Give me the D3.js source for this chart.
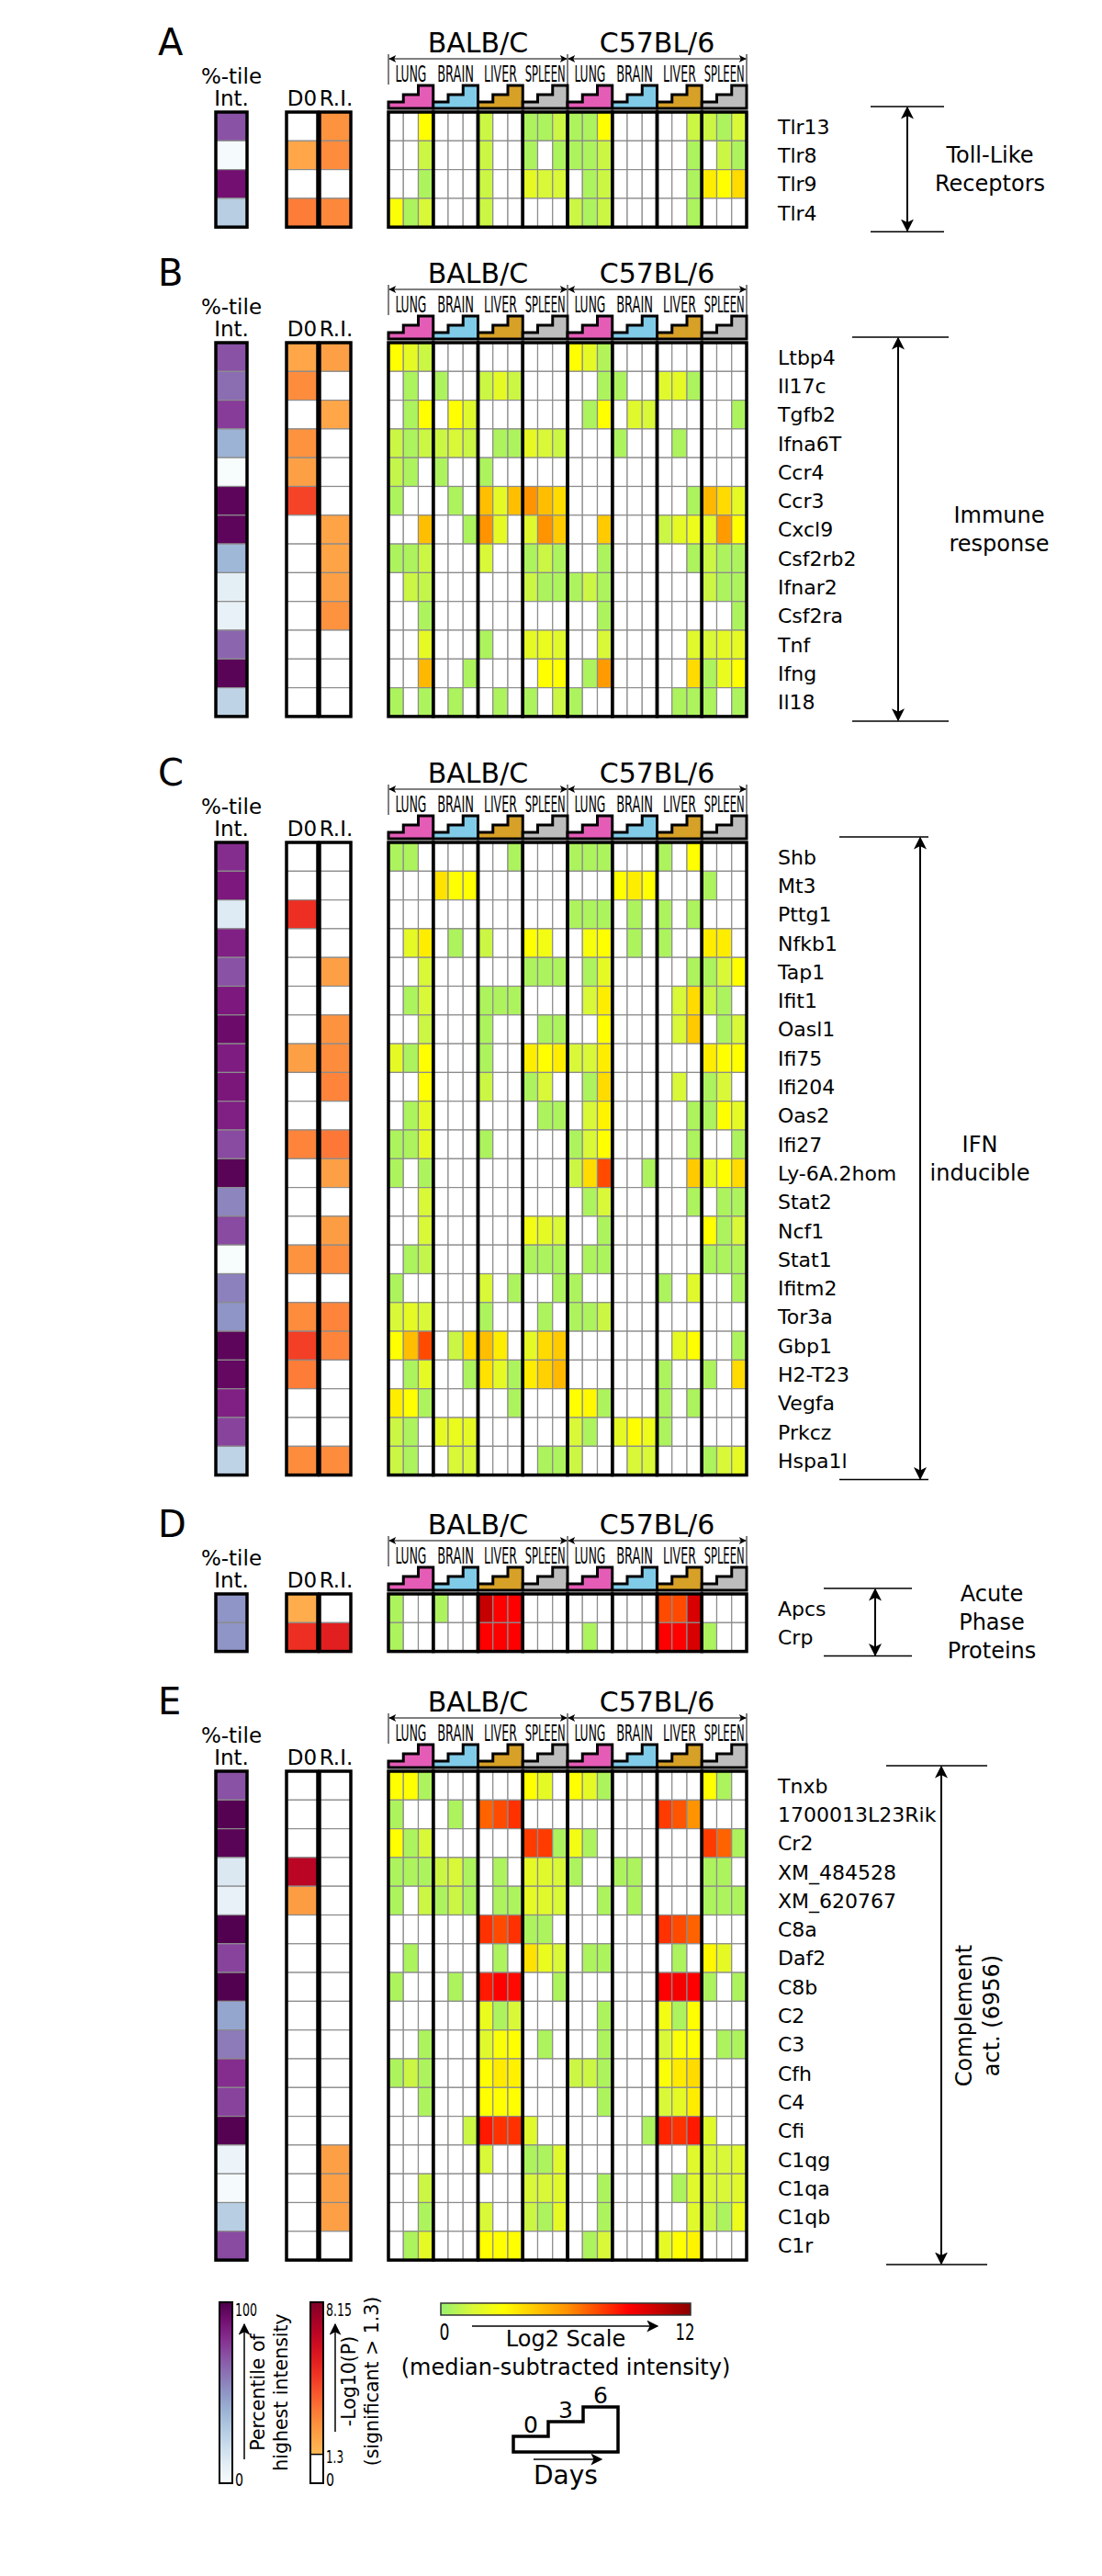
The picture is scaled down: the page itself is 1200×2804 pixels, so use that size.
<!DOCTYPE html>
<html>
<head>
<meta charset="utf-8">
<script src="https://cdn.jsdelivr.net/npm/d3@7"></script>
<style>
  body { margin: 0; background: #fff; }
  svg { display: block; font-family: "DejaVu Sans", sans-serif; }
</style>
</head>
<body>
<div class="fig"></div>
<script>
// ---------- data ----------
var strains = ["BALB/C", "C57BL/6"];
var tissues = ["LUNG", "BRAIN", "LIVER", "SPLEEN"];
var days = ["0", "3", "6"];
var tissueColors = ["#e55cb7", "#80cbe8", "#d7a027", "#bdbdbd"];
var tissueTextW = [34, 40, 36, 44];

// each row: BALB/C lung d0,d3,d6 | brain | liver | spleen | C57BL/6 lung | brain | liver | spleen
// 0 = blank (not significant), otherwise log2 median-subtracted intensity
var genesA = ["Tlr13", "Tlr8", "Tlr9", "Tlr4"];
var valsA = [
  [0,0,3, 0,0,0, 1.2,0,0, 0.5,0.5,1.2, 0.5,0.5,3, 0,0,0, 0,0,1.2, 1.2,0.5,1.5],
  [0,0,1.2, 0,0,0, 1.2,0,0, 0.5,0,0.5, 0.5,0.5,1.2, 0,0,0, 0,0,0.5, 0,1.2,0.5],
  [0,0,0.5, 0,0,0, 1.2,0,0, 2,1.5,1.5, 0,0.5,1.2, 0,0,0, 0,0,0.5, 3.5,3,4],
  [2.8,0.5,1.5, 0,0,0, 1.2,0,0, 0,0,0, 1.2,0.5,1.2, 0,0,0, 0,0,0.5, 0,0,0]
];
var pctA = [70, 1, 90, 28];
var d0A = [0, 2, 0, 3.2];
var riA = [2.6, 2.8, 0, 2.9];

var genesB = ["Ltbp4", "Il17c", "Tgfb2", "Ifna6T", "Ccr4", "Ccr3", "Cxcl9", "Csf2rb2", "Ifnar2", "Csf2ra", "Tnf", "Ifng", "Il18"];
var valsB = [
  [3,2,1.2, 0,0,0, 0,0,0, 0,0,0, 3,2,0.6, 0,0,0, 0,0,0, 0,0,0],
  [0,0.5,0, 0.5,0,0, 1.2,2,1.2, 0,0,0, 0,0,0.5, 0.5,0,0, 1.8,2,0.5, 0,0,0],
  [0,0.5,3, 0,3,1.8, 0,0,0, 0,0,0, 0,0.5,3, 0,1.8,1.5, 0,0,0, 0,0,0.5],
  [1.2,0.5,1.2, 1.2,1.5,1.2, 0,0.5,0.5, 2,1.5,1.2, 0,0,0, 0.5,0,0, 0,0.5,0, 0,0,0],
  [1,0.5,0, 0.5,0,0, 0.5,0,0, 0,0,0, 0,0,0, 0,0,0, 0,0,0, 0,0,0],
  [0.5,0,0, 0,0.5,0, 4.8,2,4.8, 6,4.8,4, 0,0,0, 0,0,0, 0,0,0.5, 5,4,2],
  [0,0,4.8, 0,0,0.5, 6,2,0, 1.8,6,4.5, 0,0,4.5, 0,0,0, 1.2,2,2.3, 2,5.8,3],
  [0.5,0.5,1.2, 0,0,0, 1.5,0,0, 0.5,1.2,0.5, 0,0,0.5, 0,0,0, 0,0,0.5, 1.2,0.5,0.5],
  [0,1.2,1, 0,0,0, 0,0,0, 1.2,0.5,0.5, 0.5,1.2,0.5, 0,0,0, 0,0,0, 1.2,0.5,0.5],
  [0,0,0.5, 0,0,0, 0,0,0, 0,0,0, 0,0,0.5, 0,0,0, 0,0,0, 0,0,0.5],
  [0,0,2, 0,0,0, 0.5,0,0, 2,2.2,1.8, 0,0,1.5, 0,0,0, 0,0,1.8, 1.5,2,2],
  [0,0,5, 0,0,0.5, 0,0,0, 0,3,3, 0,0.5,5.8, 0,0,0, 0,0,4, 0.5,2.2,3],
  [0.5,0,0.5, 0,0.5,0, 0,0.5,0, 0.5,0,1.2, 0.5,0,0, 0,0,0, 0,0.5,0.5, 0.5,0,0.5]
];
var pctB = [70, 62, 76, 40, 0, 96, 96, 38, 10, 8, 64, 97, 25];
var d0B = [2, 2.8, 0, 2.6, 2.2, 4.5, 0, 0, 0, 0, 0, 0, 0];
var riB = [2.2, 0, 2, 0, 0, 0, 2.1, 2.1, 2.2, 2.6, 0, 0, 0];

var genesC = ["Shb", "Mt3", "Pttg1", "Nfkb1", "Tap1", "Ifit1", "Oasl1", "Ifi75", "Ifi204", "Oas2", "Ifi27", "Ly-6A.2hom",
  "Stat2", "Ncf1", "Stat1", "Ifitm2", "Tor3a", "Gbp1", "H2-T23", "Vegfa", "Prkcz", "Hspa1l"];
var valsC = [
  [0.5,0.5,0, 0,0,0, 0,0,0.5, 0,0,0, 0.5,0.5,0.5, 0,0,0, 0.5,0,3, 0,0,0],
  [0,0,0, 3.8,3,3, 0,0,0, 0,0,0, 0,0,0, 3,3.5,3, 0,0,0, 0.5,0,0],
  [0,0,0, 0,0,0, 0,0,0, 0,0,0, 0.5,0.5,0.5, 0,0.5,0, 0.5,0,0.5, 0,0,0],
  [0,2,3.5, 0,0.5,0, 1.2,0,0, 3,2.5,0, 0,2.7,3, 0,0.5,0, 0.5,0,0, 3.5,3.5,0],
  [0,0,1.5, 0,0,0, 0,0,0, 0.5,0.5,0.5, 0,0.5,2, 0,0,0, 0,0,0.5, 0.5,1.5,3],
  [0,0.5,1.5, 0,0,0, 0.5,0.5,0.5, 0,0,0, 0,1.5,3.5, 0,0,0, 0,1.5,4, 1.2,0.5,0],
  [0,0,1.2, 0,0,0, 0.5,0,0, 0,0.5,0.5, 0,0,3, 0,0,0, 0,1.5,4.5, 0,0.5,1.5],
  [2,0.5,3, 0,0,0, 0.5,0,0, 3.5,3,3.5, 1.5,1.5,3.5, 0,0,0, 0,0,0, 3.5,3,3],
  [0,0,3, 0,0,0, 1.2,0,0, 0.5,1.5,0, 0,0.5,4, 0,0,0, 0,1.5,0, 0.5,1.5,0],
  [0,0.5,2, 0,0,0, 0,0,0, 0,0.5,0.5, 0,1.5,3.3, 0,0,0, 0,0,0.5, 0.5,3,2],
  [0.5,0.5,2, 0,0,0, 0.5,0,0, 0,0,0, 0.5,1.5,3, 0,0,0, 0,0,0.5, 0,0,0.5],
  [0.5,0,0.5, 0,0,0, 0,0,0, 0,0,0, 1.2,4,7.5, 0,0,0.5, 0,0,4.5, 2,3,4],
  [0,0,1.5, 0,0,0, 0,0,0, 0,0,0, 0,0.5,1.5, 0,0,0, 0,0,0.5, 0,0.5,0.5],
  [0,0,1.5, 0,0,0, 0,0,0, 2.5,2,1.5, 0,0,0.5, 0,0,0, 0,0,0, 3,0.5,1.5],
  [0,0.5,1, 0,0,0, 0,0,0, 0.5,0.5,0.5, 0,0.5,0.5, 0,0,0, 0,0,0, 0.5,0.5,0.5],
  [0.5,0,0, 0,0,0, 1.5,0,0.5, 0,0,0.5, 0.5,0,0, 0,0,0, 0.5,0,1.8, 0,0,0.5],
  [1.5,2,1.5, 0,0,0, 0.5,0,0, 0,0.5,0, 0.5,0.5,1.2, 0,0,0, 0,0,0, 0,0,0],
  [3,4.8,7.5, 0,1.2,4, 4.8,3.5,0, 2,4,4.5, 0,0,0, 0,0,0, 0,2,3, 0,0,0.5],
  [0,0.5,2, 0,0,0.5, 3.8,2,0.5, 3.5,4.3,5, 0,0,0, 0,0,0, 0.5,0,0, 0.5,0,4],
  [3.5,3,0.5, 0,0,0, 0,0,0.5, 0,0,0, 3,3.2,0.5, 0,0,0, 0.5,0,0.5, 0,0,0],
  [1.2,0.5,0, 2,2.2,2, 0,0,0, 0,0,0, 1.5,0.5,0, 2,3,2.3, 0.5,0,0, 0,0,0],
  [1.2,0.5,0, 0,1.5,1.5, 0,0,0, 0,0.5,0.5, 1.2,0,0, 0,1.5,1.5, 0,0,0, 0.5,1.5,2]
];
var pctC = [80, 86, 12, 84, 70, 86, 92, 85, 87, 84, 72, 97, 55, 72, 0, 56, 50, 96, 94, 84, 74, 25];
var d0C = [0, 0, 5, 0, 0, 0, 0, 2.2, 0, 0, 3, 0, 0, 0, 2.6, 0, 2.8, 4.6, 3.2, 0, 0, 2.8];
var riC = [0, 0, 0, 0, 2.2, 0, 2.6, 2.8, 3, 0, 3.3, 2.2, 0, 2.3, 2.8, 0, 3, 3, 0, 0, 0, 2.8];

var genesD = ["Apcs", "Crp"];
var valsD = [
  [0.5,0,0, 0.5,0,0, 10.5,9,9, 0,0,0, 0,0,0, 0,0,0, 7.5,7.5,10, 0,0,0],
  [0.5,0,0, 0,0,0, 9,9,9, 0,0,0, 0,0.5,0, 0,0,0, 9,9,10, 0.5,0,0]
];
var pctD = [50, 50];
var d0D = [1.8, 5];
var riD = [0, 5.5];

var genesE = ["Tnxb", "1700013L23Rik", "Cr2", "XM_484528", "XM_620767", "C8a", "Daf2", "C8b", "C2", "C3", "Cfh",
  "C4", "Cfi", "C1qg", "C1qa", "C1qb", "C1r"];
var valsE = [
  [3,3,0.5, 0,0,0, 0,0,0, 3,2,0, 3,2,0.5, 0,0,0, 0,0,0, 3,0.5,0],
  [0.5,0,0, 0,0.5,0, 7,7.5,8, 0,0,0, 0,0,0, 0,0,0, 7.8,7.3,6, 0,0,0],
  [3,0.5,1.5, 0,0,0, 0,0,0, 7.8,7.8,0.5, 2.5,0.5,0, 0,0,0, 0,0,0, 7.8,7,0.5],
  [0.5,0.5,0.5, 1.2,1.5,0.5, 0,0.5,0, 2,1.8,1.5, 0.5,0,0, 0.5,0.5,0, 0,0,0, 0.5,0.5,0],
  [0.5,0,1.2, 0.5,1.2,0.5, 0,0.5,0.5, 2,1.8,1.5, 0,0,0.5, 0,0.5,0, 0,0,0, 0.5,0.5,0.5],
  [0,0,0, 0,0,0, 8,7.5,8, 0.5,0.5,0, 0,0,0, 0,0,0, 8,7.5,7, 0,0,0],
  [0,0.5,0, 0,0,0, 0,0.5,0, 3.8,2.2,1.5, 0,0.5,0.5, 0,0,0, 0,0.5,0, 3.2,2,0],
  [0.5,0,0, 0,0.5,0, 8.5,9,8.8, 0,0,0.5, 0,0,0, 0,0,0, 9,9.2,9, 0.5,0,0.5],
  [0,0,0, 0,0,0, 2.2,0.5,1.5, 0,0,0, 0,0,0.5, 0,0,0, 2.5,0.5,3, 0,0,0],
  [0,0,0.5, 0,0,0, 1.8,2.8,3, 0,0.5,0, 0,0,0.5, 0,0,0, 1.5,2.8,3, 0,0.5,0.5],
  [0.5,1.2,0.5, 0,0,0, 3,3.6,3.4, 0,0,0, 1.2,1.2,0.5, 0,0,0, 2.8,3.6,4, 0,0,0],
  [0,0,0.5, 0,0,0, 3,3,3, 0,0,0, 0,0,0.5, 0,0,0, 1.5,2,3.5, 0,0,0],
  [0,0,0, 0,0,1.2, 8.5,8,8, 1.8,0,0, 0,0,0, 0,0,0.5, 8.3,8,8.5, 1.8,0,0],
  [0,0,0, 0,0,0, 1.5,0,0, 0.5,0.5,1.8, 0,0,0, 0,0,0, 0,0,1.8, 1.5,1.5,1.8],
  [0,0,1.2, 0,0,0, 0,0,0, 1.5,1.5,1.8, 0,0,0.5, 0,0,0, 0,0.5,1.8, 1.5,1.5,1.8],
  [0,0,0.5, 0,0,0, 1.5,0,0, 1.2,0.5,2, 0,0,0.5, 0,0,0, 0,0,1.8, 1.2,0.5,2.3],
  [0,0.5,2, 0,0,0, 3,3,3, 0,0,0, 0,0.5,1.5, 0,0,0, 2,3,3.3, 0,0,0]
];
var pctE = [70, 98, 97, 14, 8, 99, 74, 99, 45, 58, 80, 74, 98, 6, 1, 28, 72];
var d0E = [0, 0, 0, 6.8, 2.3, 0, 0, 0, 0, 0, 0, 0, 0, 0, 0, 0, 0];
var riE = [0, 0, 0, 0, 0, 0, 0, 0, 0, 0, 0, 0, 0, 2.2, 2.2, 2.2, 0];

// legend ticks
var pctTicks = [0, 100];
var pTicks = [0, 1.3, 8.15];
var log2Ticks = [0, 12];
var dayTicks = ["0", "3", "6"];

// ---------- scales ----------
var rowH = 31.3;
var colW = 34;

var colIds = [], groupIds = [];
strains.forEach(function(s) {
  tissues.forEach(function(t) {
    groupIds.push(s + "|" + t);
    days.forEach(function(d) { colIds.push(s + "|" + t + "|" + d); });
  });
});
var x = d3.scaleBand().domain(colIds).range([423, 813]);
var xGroup = d3.scaleBand().domain(groupIds).range([423, 813]);
var xStrain = d3.scaleBand().domain(strains).range([423, 813]);

var log2Color = d3.scaleLinear()
  .domain([0, 1.5, 3, 6, 9, 12])
  .range(["#98f070", "#d8f838", "#ffff00", "#ff9400", "#ff0000", "#8b0000"])
  .clamp(true);
var pctColor = d3.scaleSequential(d3.interpolateBuPu).domain([0, 100]);
var pT = d3.scaleLinear().domain([1.3, 8.15]).range([0.35, 1]).clamp(true);
function pColor(v) { return v > 0 ? d3.interpolateYlOrRd(pT(v)) : "#fff"; }
function cellColor(v) { return v > 0 ? log2Color(v) : "#fff"; }

var leftCols = [
  {key: "pct", x: 235, color: function(v) { return pctColor(v); }},
  {key: "d0", x: 312, color: pColor},
  {key: "ri", x: 348, color: pColor}
];

var panels = [
  {letter: "A", top: 122, genes: genesA, vals: valsA, pct: pctA, d0: d0A, ri: riA,
   arrowX: 988, tickL: 40, tickR: 40, labelX: 1078, lines: ["Toll-Like", "Receptors"]},
  {letter: "B", top: 373, genes: genesB, vals: valsB, pct: pctB, d0: d0B, ri: riB,
   arrowX: 978, tickL: 50, tickR: 55, labelX: 1088, lines: ["Immune", "response"]},
  {letter: "C", top: 917, genes: genesC, vals: valsC, pct: pctC, d0: d0C, ri: riC,
   arrowX: 1002, tickL: 88, tickR: 9, labelX: 1067, lines: ["IFN", "inducible"]},
  {letter: "D", top: 1735, genes: genesD, vals: valsD, pct: pctD, d0: d0D, ri: riD,
   arrowX: 953, tickL: 56, tickR: 40, labelX: 1080, lines: ["Acute", "Phase", "Proteins"]},
  {letter: "E", top: 1928, genes: genesE, vals: valsE, pct: pctE, d0: d0E, ri: riE,
   arrowX: 1025, tickL: 60, tickR: 50, labelX: 1050, lines: ["Complement", "act. (6956)"], rotate: true}
];

// ---------- svg ----------
var svg = d3.select(".fig").append("svg")
  .attr("width", 1200)
  .attr("height", 2804);
var defs = svg.append("defs");

function marker(id, w, h) {
  defs.append("marker")
    .attr("id", id)
    .attr("viewBox", "0 0 10 10")
    .attr("refX", 9).attr("refY", 5)
    .attr("markerUnits", "userSpaceOnUse")
    .attr("markerWidth", w).attr("markerHeight", h)
    .attr("orient", "auto-start-reverse")
    .append("path")
    .attr("d", "M0,0 L10,5 L0,10 L2.5,5 z")
    .attr("fill", "#000");
}
marker("ahBig", 14, 14);
marker("ahSmall", 9, 8);
marker("ahLeg", 14, 13);

// squeeze a text horizontally to a given width (condensed look)
function squeeze(sel, cx, cy, w) {
  sel.each(function(d, i) {
    var len = this.getComputedTextLength();
    var tw = typeof w === "function" ? w(d, i) : w;
    var px = typeof cx === "function" ? cx(d, i) : cx;
    var py = typeof cy === "function" ? cy(d, i) : cy;
    d3.select(this).attr("transform", "translate(" + px + "," + py + ") scale(" + (tw / len) + ",1)");
  });
}

function drawPanel(p) {
  var top = p.top, bottom = top + p.genes.length * rowH;
  var y = d3.scaleBand().domain(p.genes).range([top, bottom]);
  var g = svg.append("g").attr("class", "panel-" + p.letter);

  g.append("text").attr("x", 172).attr("y", top - 62)
    .attr("font-size", 40).text(p.letter);

  // left column headers
  g.append("text").attr("x", 252).attr("y", top - 31).attr("text-anchor", "middle")
    .attr("font-size", 23).text("%-tile");
  g.append("text").attr("x", 252).attr("y", top - 7).attr("text-anchor", "middle")
    .attr("font-size", 23).text("Int.");
  g.append("text").attr("x", 329).attr("y", top - 7).attr("text-anchor", "middle")
    .attr("font-size", 23).text("D0");
  g.append("text").attr("x", 366).attr("y", top - 7).attr("text-anchor", "middle")
    .attr("font-size", 23).text("R.I.");

  leftCols.forEach(function(c) {
    var vals = p[c.key];
    g.selectAll(null)
      .data(p.genes)
      .enter().append("rect")
      .attr("x", c.x)
      .attr("y", function(d) { return y(d); })
      .attr("width", colW)
      .attr("height", y.bandwidth())
      .attr("fill", function(d, i) { return c.color(vals[i]); })
      .attr("stroke", "#8c8c8c")
      .attr("stroke-width", 1.2);
    g.append("rect")
      .attr("x", c.x).attr("y", top)
      .attr("width", colW).attr("height", bottom - top)
      .attr("fill", "none").attr("stroke", "#000").attr("stroke-width", 3.5);
  });

  // heatmap cells
  var cells = [];
  p.vals.forEach(function(row, i) {
    row.forEach(function(v, j) { cells.push({gene: p.genes[i], col: colIds[j], v: v}); });
  });
  g.selectAll(null)
    .data(cells)
    .enter().append("rect")
    .attr("x", function(d) { return x(d.col); })
    .attr("y", function(d) { return y(d.gene); })
    .attr("width", x.bandwidth())
    .attr("height", y.bandwidth())
    .attr("fill", function(d) { return cellColor(d.v); })
    .attr("stroke", "#8c8c8c")
    .attr("stroke-width", 1.2);

  // tissue group borders
  g.selectAll(null)
    .data(groupIds)
    .enter().append("rect")
    .attr("x", function(d) { return xGroup(d); })
    .attr("y", top)
    .attr("width", xGroup.bandwidth())
    .attr("height", bottom - top)
    .attr("fill", "none")
    .attr("stroke", "#000")
    .attr("stroke-width", 3.5);

  // stair icons
  var sb = top - 4, bw = x.bandwidth();
  g.selectAll(null)
    .data(groupIds)
    .enter().append("path")
    .attr("d", function(d) {
      var gx = xGroup(d);
      return "M" + gx + "," + sb + "V" + (sb - 7) + "H" + (gx + bw) + "V" + (sb - 15) +
        "H" + (gx + 2 * bw) + "V" + (sb - 25) + "H" + (gx + 3 * bw) + "V" + sb + "Z";
    })
    .attr("fill", function(d, i) { return tissueColors[i % 4]; })
    .attr("stroke", "#000")
    .attr("stroke-width", 3)
    .attr("stroke-linejoin", "miter");

  // tissue names (condensed)
  var tn = g.selectAll(null)
    .data(groupIds)
    .enter().append("text")
    .attr("text-anchor", "middle")
    .attr("font-size", 24)
    .text(function(d) { return d.split("|")[1]; });
  squeeze(tn, function(d) { return xGroup(d) + xGroup.bandwidth() / 2; }, top - 33,
    function(d, i) { return tissueTextW[i % 4]; });

  // strain names + double arrows
  strains.forEach(function(s) {
    var sx = xStrain(s), sw = xStrain.bandwidth();
    g.append("text").attr("x", sx + sw / 2).attr("y", top - 65)
      .attr("text-anchor", "middle").attr("font-size", 30).text(s);
    g.append("line")
      .attr("x1", sx + 1).attr("x2", sx + sw - 1)
      .attr("y1", top - 58).attr("y2", top - 58)
      .attr("stroke", "#000").attr("stroke-width", 1.2)
      .attr("marker-start", "url(#ahSmall)").attr("marker-end", "url(#ahSmall)");
  });
  [423, xStrain("C57BL/6"), 813].forEach(function(vx) {
    g.append("line").attr("x1", vx).attr("x2", vx)
      .attr("y1", top - 63).attr("y2", top - 30)
      .attr("stroke", "#000").attr("stroke-width", 1);
  });

  // gene names
  g.selectAll(null)
    .data(p.genes)
    .enter().append("text")
    .attr("x", 847)
    .attr("y", function(d) { return y(d) + y.bandwidth() / 2 + 8; })
    .attr("font-size", 22)
    .text(function(d) { return d; });

  // bracket
  var t0 = top - 6, t1 = bottom + 5;
  [t0, t1].forEach(function(ty) {
    g.append("line").attr("x1", p.arrowX - p.tickL).attr("x2", p.arrowX + p.tickR)
      .attr("y1", ty).attr("y2", ty).attr("stroke", "#000").attr("stroke-width", 1.5);
  });
  g.append("line").attr("x1", p.arrowX).attr("x2", p.arrowX)
    .attr("y1", t0 + 1).attr("y2", t1 - 1)
    .attr("stroke", "#000").attr("stroke-width", 2)
    .attr("marker-start", "url(#ahBig)").attr("marker-end", "url(#ahBig)");

  // group label
  var mid = (top + bottom) / 2;
  if (p.rotate) {
    var rg = g.append("g").attr("transform", "translate(" + p.labelX + "," + mid + ") rotate(-90)");
    p.lines.forEach(function(l, i) {
      rg.append("text").attr("x", 0).attr("y", 8 + i * 30)
        .attr("text-anchor", "middle").attr("font-size", 24).text(l);
    });
  } else {
    var n = p.lines.length;
    p.lines.forEach(function(l, i) {
      g.append("text").attr("x", p.labelX)
        .attr("y", mid - (n - 1) / 2 * 31 + i * 31 + 8)
        .attr("text-anchor", "middle").attr("font-size", 24).text(l);
    });
  }
}

panels.forEach(drawPanel);

// ---------- legends ----------
var leg = svg.append("g").attr("class", "legend");
var barTop = 2506, barBot = 2703;

// percentile bar
var pctGrad = defs.append("linearGradient").attr("id", "gPct")
  .attr("x1", 0).attr("y1", 1).attr("x2", 0).attr("y2", 0);
d3.range(0, 1.01, 0.1).forEach(function(t) {
  pctGrad.append("stop").attr("offset", t).attr("stop-color", pctColor(t * 100));
});
var yPct = d3.scaleLinear().domain([0, 100]).range([barBot, barTop]);
leg.append("rect").attr("x", 239).attr("y", barTop).attr("width", 14).attr("height", barBot - barTop)
  .attr("fill", "url(#gPct)").attr("stroke", "#000").attr("stroke-width", 2);
var pctLab = leg.selectAll(null).data(pctTicks).enter().append("text")
  .attr("font-size", 20)
  .text(function(d) { return d; });
squeeze(pctLab, 256, function(d) { return yPct(d) + (d === 0 ? 3 : 15); },
  function(d) { return d === 0 ? 9 : 24; });
leg.append("line").attr("x1", 266).attr("x2", 266).attr("y1", 2677).attr("y2", 2530)
  .attr("stroke", "#000").attr("stroke-width", 1.5).attr("marker-end", "url(#ahLeg)");
[["Percentile of", 288], ["highest intensity", 313]].forEach(function(l) {
  leg.append("text").attr("transform", "translate(" + l[1] + ",2604) rotate(-90)")
    .attr("text-anchor", "middle").attr("font-size", 20.5).text(l[0]);
});

// -log10(P) bar
var yP = d3.scaleLinear().domain([0, 8.15]).range([barBot, barTop]);
var pGrad = defs.append("linearGradient").attr("id", "gP")
  .attr("x1", 0).attr("y1", 1).attr("x2", 0).attr("y2", 0);
d3.range(0, 1.01, 0.1).forEach(function(t) {
  pGrad.append("stop").attr("offset", t).attr("stop-color", pColor(1.3 + t * 6.85));
});
leg.append("rect").attr("x", 338).attr("y", barTop).attr("width", 14).attr("height", yP(1.3) - barTop)
  .attr("fill", "url(#gP)");
leg.append("rect").attr("x", 338).attr("y", yP(1.3)).attr("width", 14).attr("height", barBot - yP(1.3))
  .attr("fill", "#fff");
leg.append("line").attr("x1", 338).attr("x2", 352).attr("y1", yP(1.3)).attr("y2", yP(1.3))
  .attr("stroke", "#000").attr("stroke-width", 1.5);
leg.append("rect").attr("x", 338).attr("y", barTop).attr("width", 14).attr("height", barBot - barTop)
  .attr("fill", "none").attr("stroke", "#000").attr("stroke-width", 2);
var pLab = leg.selectAll(null).data(pTicks).enter().append("text")
  .attr("font-size", 20)
  .text(function(d) { return d; });
squeeze(pLab, 355, function(d) { return d === 8.15 ? yP(d) + 15 : yP(d) + (d === 0 ? 3 : 9); },
  function(d) { return d === 0 ? 9 : (d === 8.15 ? 28 : 19); });
leg.append("line").attr("x1", 365).attr("x2", 365).attr("y1", 2647).attr("y2", 2530)
  .attr("stroke", "#000").attr("stroke-width", 1.5).attr("marker-end", "url(#ahLeg)");
[["-Log10(P)", 387], ["(significant > 1.3)", 412]].forEach(function(l) {
  leg.append("text").attr("transform", "translate(" + l[1] + ",2592) rotate(-90)")
    .attr("text-anchor", "middle").attr("font-size", 20.5).text(l[0]);
});

// log2 bar
var xLog = d3.scaleLinear().domain([0, 12]).range([480, 752]);
var lGrad = defs.append("linearGradient").attr("id", "gLog")
  .attr("x1", 0).attr("y1", 0).attr("x2", 1).attr("y2", 0);
d3.range(0, 12.01, 0.5).forEach(function(v) {
  lGrad.append("stop").attr("offset", v / 12).attr("stop-color", log2Color(v));
});
leg.append("rect").attr("x", xLog(0)).attr("y", 2507).attr("width", xLog(12) - xLog(0)).attr("height", 13)
  .attr("fill", "url(#gLog)").attr("stroke", "#333").attr("stroke-width", 1.5);
var logLab = leg.selectAll(null).data(log2Ticks).enter().append("text")
  .attr("text-anchor", "middle")
  .attr("font-size", 24)
  .text(function(d) { return d; });
squeeze(logLab, function(d) { return xLog(d) + (d === 0 ? 4 : -6); }, 2547,
  function(d) { return d === 0 ? 11 : 21; });
leg.append("line").attr("x1", 514).attr("x2", 716).attr("y1", 2532).attr("y2", 2532)
  .attr("stroke", "#000").attr("stroke-width", 1.5).attr("marker-end", "url(#ahLeg)");
leg.append("text").attr("x", 616).attr("y", 2554).attr("text-anchor", "middle")
  .attr("font-size", 24).text("Log2 Scale");
leg.append("text").attr("x", 616).attr("y", 2585).attr("text-anchor", "middle")
  .attr("font-size", 24).text("(median-subtracted intensity)");

// days stairs
var xDay = d3.scaleBand().domain(dayTicks).range([559, 673]);
var stepTop = {"0": 2652, "3": 2636, "6": 2620};
var db = 2669;
var dpath = "M" + xDay("0") + "," + db;
dayTicks.forEach(function(d) {
  dpath += "V" + stepTop[d] + "H" + (xDay(d) + xDay.bandwidth());
});
dpath += "V" + db + "Z";
leg.append("path").attr("d", dpath).attr("fill", "#fff").attr("stroke", "#000").attr("stroke-width", 3.5);
leg.selectAll(null).data(dayTicks).enter().append("text")
  .attr("x", function(d) { return xDay(d) + xDay.bandwidth() / 2; })
  .attr("y", function(d) { return stepTop[d] - 4; })
  .attr("text-anchor", "middle")
  .attr("font-size", 25)
  .text(function(d) { return d; });
leg.append("line").attr("x1", 581).attr("x2", 655).attr("y1", 2677).attr("y2", 2677)
  .attr("stroke", "#000").attr("stroke-width", 1.5).attr("marker-end", "url(#ahLeg)");
leg.append("text").attr("x", 616).attr("y", 2704).attr("text-anchor", "middle")
  .attr("font-size", 28).text("Days");
</script>
</body>
</html>
